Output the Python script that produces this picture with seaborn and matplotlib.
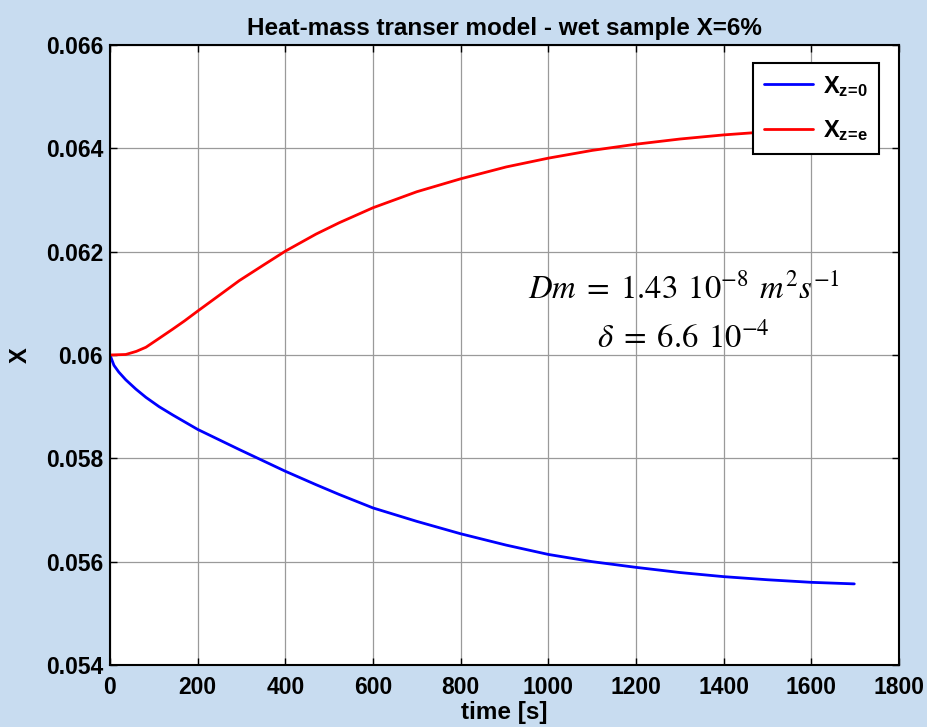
import numpy as np
import pandas as pd
import matplotlib
matplotlib.use("Agg")
import matplotlib.pyplot as plt
import seaborn as sns

# ---- data ----
t_red = [0, 36, 60, 82, 110, 143, 170, 200, 250, 295, 350, 400, 470, 523, 600, 700, 800,
         904, 1000, 1100, 1200, 1300, 1400, 1465, 1600, 1700]
x_red = [0.06000, 0.06001, 0.06007, 0.06015, 0.06031, 0.06050, 0.06066, 0.06085, 0.06116,
         0.06144, 0.06174, 0.06201, 0.06234, 0.06256, 0.06285, 0.06316, 0.06341,
         0.06364, 0.06381, 0.06396, 0.06408, 0.06418, 0.06426, 0.06430, 0.06436, 0.06439]
t_blue = [0, 9, 20, 36, 59, 82, 112, 143, 200, 295, 350, 400, 470, 523, 600, 700, 800,
          904, 1000, 1100, 1200, 1300, 1400, 1500, 1600, 1698]
x_blue = [0.06000, 0.05980, 0.05967, 0.05952, 0.05934, 0.05918, 0.05900, 0.05884, 0.05856,
          0.05817, 0.05795, 0.05775, 0.05749, 0.05730, 0.05704, 0.05678, 0.05654,
          0.05632, 0.05614, 0.05600, 0.05589, 0.05579, 0.05571, 0.05565, 0.05560, 0.05557]
series_labels = [r"$\mathbf{X_{z\!=\!0}}$", r"$\mathbf{X_{z\!=\!e}}$"]
x_ticks = [0, 200, 400, 600, 800, 1000, 1200, 1400, 1600, 1800]
y_ticks = [0.054, 0.056, 0.058, 0.060, 0.062, 0.064, 0.066]
y_tick_labels = ["0.054", "0.056", "0.058", "0.06", "0.062", "0.064", "0.066"]
title = "Heat-mass transer model - wet sample X=6%"
xlabel = "time [s]"
ylabel = "X"
ann1 = r"$Dm\;=\;1.43\;\,10^{-8}\;\,m^{2}s^{-1}$"
ann2 = r"$\delta\;=\;6.6\;\,10^{-4}$"

sns.set_style("white")
plt.rcParams["font.family"] = ["Liberation Sans", "DejaVu Sans"]
plt.rcParams["text.color"] = "black"
plt.rcParams["axes.labelcolor"] = "black"
plt.rcParams["xtick.color"] = "black"
plt.rcParams["ytick.color"] = "black"
plt.rcParams["mathtext.fontset"] = "custom"
plt.rcParams["mathtext.bf"] = "Liberation Sans:bold"
plt.rcParams["mathtext.rm"] = "Liberation Sans:bold"
plt.rcParams["mathtext.it"] = "Liberation Sans:bold"

bg = "#c8dcf0"
fig = plt.figure(figsize=(9.28, 7.27), dpi=100, facecolor=bg)
ax = fig.add_axes([110 / 928, 1 - 665 / 727, 789 / 928, 620 / 727])
ax.set_facecolor("white")

df_blue = pd.DataFrame({"t": t_blue, "X": x_blue})
df_red = pd.DataFrame({"t": t_red, "X": x_red})
sns.lineplot(data=df_blue, x="t", y="X", ax=ax, color="#0000ff", linewidth=2.0,
             label=series_labels[0])
sns.lineplot(data=df_red, x="t", y="X", ax=ax, color="#ff0000", linewidth=2.0,
             label=series_labels[1])

ax.set_xlim(0, 1800)
ax.set_ylim(0.054, 0.066)
ax.set_xticks(x_ticks)
ax.set_xticklabels([str(v) for v in x_ticks])
ax.set_yticks(y_ticks)
ax.set_yticklabels(y_tick_labels)
ax.grid(True, color="#9a9a9a", linewidth=0.9, linestyle="-")
ax.set_axisbelow(True)
ax.tick_params(direction="in", length=5, width=1.0, color="black",
               top=True, right=True, bottom=True, left=True,
               labelsize=16.5, labelcolor="black")
ax.tick_params(axis="x", pad=8)
ax.tick_params(axis="y", pad=5)
for lab in ax.get_xticklabels() + ax.get_yticklabels():
    lab.set_fontweight("bold")
for sp in ax.spines.values():
    sp.set_color("black")
    sp.set_linewidth(1.5)

ax.set_title(title, fontsize=17.5, fontweight="bold", pad=7, color="black")
ax.set_xlabel(xlabel, fontsize=17.5, fontweight="bold", labelpad=1, color="black")
ax.set_ylabel(ylabel, fontsize=17, fontweight="bold", labelpad=10, color="black")

ax.text(0.727, 0.605, ann1, transform=ax.transAxes, ha="center", va="center",
        fontsize=23.5, fontweight="normal", math_fontfamily="stix", color="black")
ax.text(0.727, 0.527, ann2, transform=ax.transAxes, ha="center", va="center",
        fontsize=23.5, fontweight="normal", math_fontfamily="stix", color="black")

leg = ax.legend(loc="upper right", bbox_to_anchor=(0.9747, 0.971), borderaxespad=0,
                fontsize=17, frameon=True, fancybox=False, framealpha=1,
                handlelength=2.1, labelspacing=0.85, borderpad=0.45, handletextpad=0.4)
leg.get_frame().set_edgecolor("black")
leg.get_frame().set_linewidth(1.5)
for txt in leg.get_texts():
    txt.set_color("black")

fig.savefig("out.png", dpi=100, facecolor=bg)
